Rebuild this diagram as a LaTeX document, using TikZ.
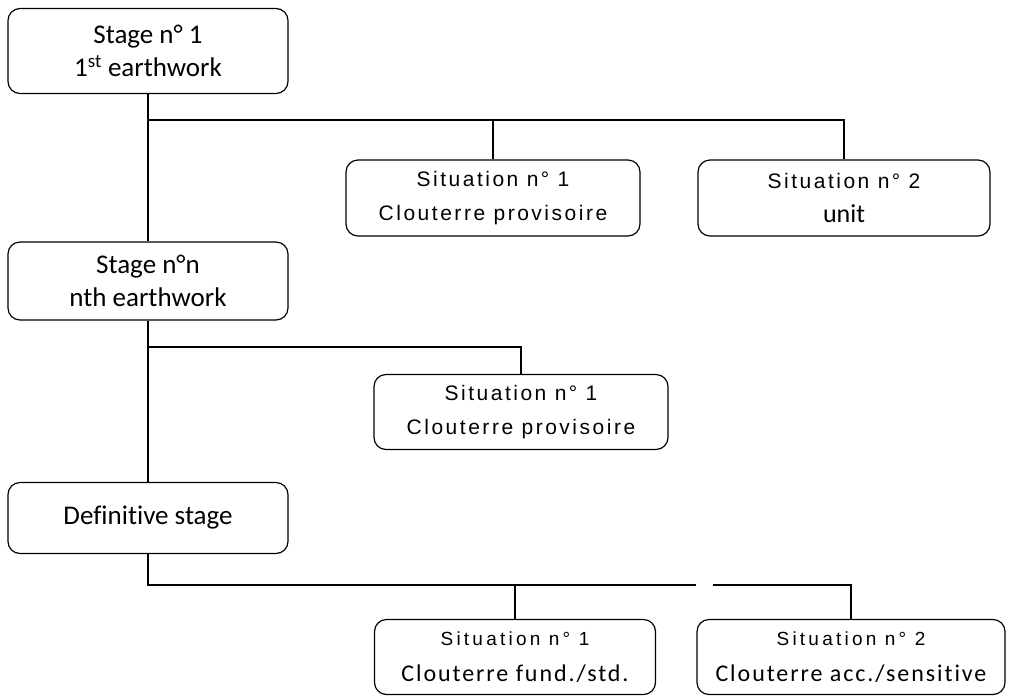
\documentclass[tikz,border=0pt]{standalone}
\usepackage{fontspec}
\setmainfont[Ligatures=NoCommon]{Carlito}
\newfontfamily\sitfont[LetterSpace=12]{Liberation Sans}
\newfontfamily\sitsmall[LetterSpace=17]{Liberation Sans}
\newfontfamily\sitcal[LetterSpace=8,Ligatures=NoCommon]{Carlito}
\usetikzlibrary{positioning}

\begin{document}
\begin{tikzpicture}[
    x=1pt, y=-1pt,
    stagebox/.style={rectangle, draw, line width=1.2pt, rounded corners=12pt,
                minimum width=280pt, align=center, inner sep=0pt,
                font=\fontsize{27}{33}\selectfont},
    sitbox/.style={rectangle, draw, line width=1.2pt, rounded corners=12pt,
                align=center, inner sep=0pt,
                font=\sitfont\fontsize{21}{34}\selectfont},
    link/.style={line width=1.2pt}
]
    \useasboundingbox (0,0) rectangle (1009,697);
    % stages
    \node[stagebox, minimum height=85pt] (st1) at (148,51) {Stage n\textdegree\ 1\\1\textsuperscript{st} earthwork};
    \node[stagebox, minimum height=78pt] (st2) at (148,281) {Stage n\textdegree n\\nth earthwork};
    \node[stagebox, minimum height=71pt] (st3) at (148,518) {Definitive stage};
    % situations
    \node[sitbox, minimum width=294pt, minimum height=76pt] (sa1) at (493,198) {Situation n\textdegree\ 1\\Clouterre provisoire};
    \node[sitbox, minimum width=292pt, minimum height=76pt] (sa2) at (844,198) {Situation n\textdegree\ 2\\{\normalfont\fontsize{26}{34}\selectfont unit}};
    \node[sitbox, minimum width=294pt, minimum height=75pt] (sb1) at (521,412) {Situation n\textdegree\ 1\\Clouterre provisoire};
    \node[sitbox, minimum width=281pt, minimum height=75pt,
          font=\sitsmall\fontsize{19}{36}\selectfont] (sc1) at (515,657) {Situation n\textdegree\ 1\\{\sitcal\fontsize{24}{36}\selectfont Clouterre fund./std.}};
    \node[sitbox, minimum width=308pt, minimum height=75pt,
          font=\sitsmall\fontsize{19}{36}\selectfont] (sc2) at (851,657) {Situation n\textdegree\ 2\\{\sitcal\fontsize{24}{36}\selectfont Clouterre acc./sensitive}};
    % branch points
    \coordinate (j1) at (149,120);
    \coordinate (j2) at (149,347);
    \coordinate (j3) at (149,585);
    \coordinate (gapL) at (696,585);
    \coordinate (gapR) at (713,585);
    \draw[link] (st1) -- (st2);
    \draw[link] (st2) -- (st3);
    \draw[link] (j1) -| (sa1.north);
    \draw[link] (j1) -| (sa2.north);
    \draw[link] (j2) -| (sb1.north);
    \draw[link] (st3.south) |- (gapL);
    \draw[link] (j3) -| (sc1.north);
    \draw[link] (gapR) -| (sc2.north);
\end{tikzpicture}
\end{document}
